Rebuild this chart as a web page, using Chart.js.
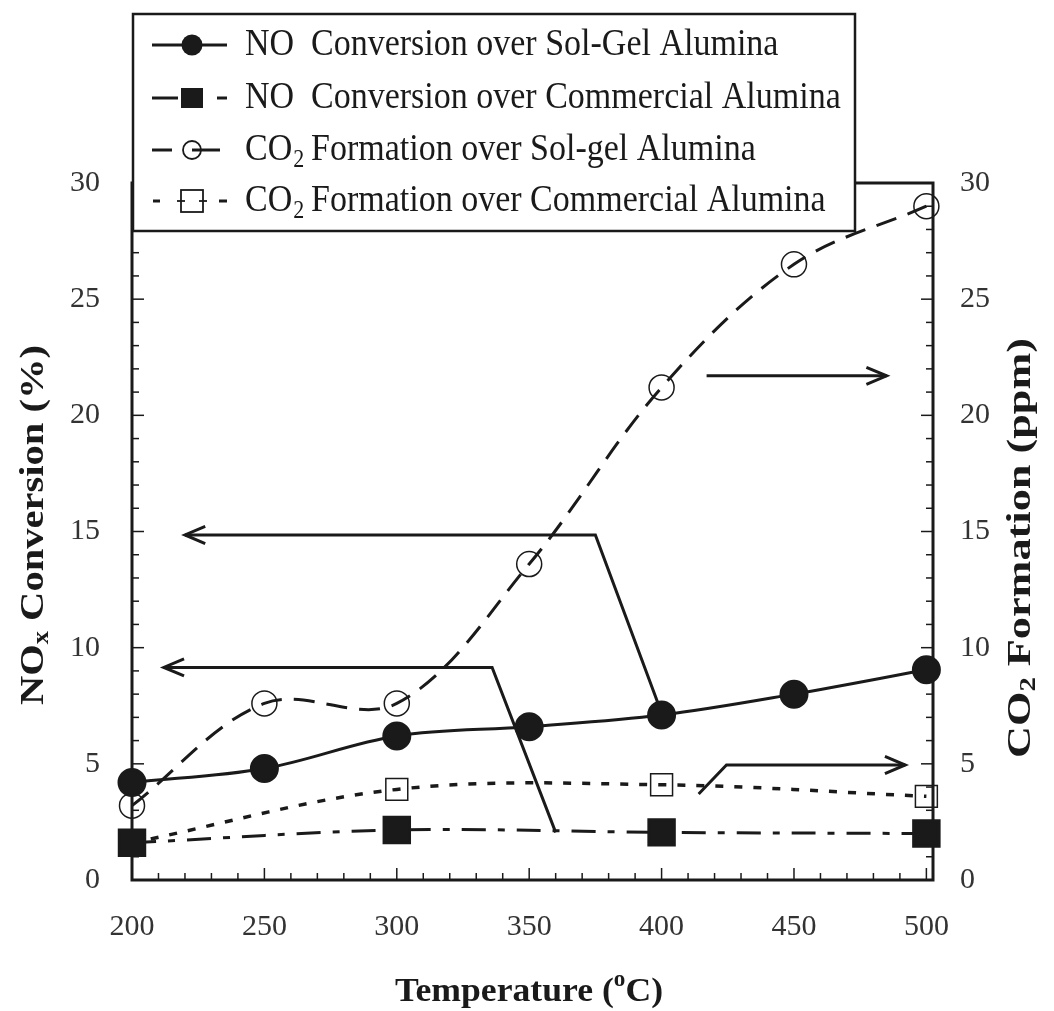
<!DOCTYPE html>
<html>
<head>
<meta charset="utf-8">
<script src="https://cdn.jsdelivr.net/npm/chart.js@4.4.0/dist/chart.umd.min.js"></script>
<style>
  html, body { margin: 0; padding: 0; background: #fff; }
  #wrap { width: 1054px; height: 1011px; }
</style>
</head>
<body>
<div id="wrap"><canvas id="myChart" width="1054" height="1011"></canvas></div>
<script>
// Données
var temperatures = [200, 250, 300, 350, 400, 450, 500];
var noSolGel = [4.2, 4.8, 6.2, 6.6, 7.1, 8.0, 9.05];      // NOx conversion (%)
var co2SolGel = [3.2, 7.6, 7.6, 13.6, 21.2, 26.5, 29.0];  // CO2 (ppm)

var tempCommercial = [200, 300, 400, 500];
var noCommercial = [1.6, 2.15, 2.05, 2.0];
var co2Commercial = [1.6, 3.9, 4.1, 3.6];

var xTickValues = [200, 250, 300, 350, 400, 450, 500];
var yTickValues = [0, 5, 10, 15, 20, 25, 30];

// Flèches d'annotation (coordonnées en données : température, valeur)
var arrows = [
    [[398.5, 7.65], [375, 14.85], [220, 14.85]],
    [[360, 2.05], [336, 9.15], [212, 9.15]],
    [[417, 21.7], [485, 21.7]],
    [[414, 3.7], [424.5, 4.95], [492, 4.95]]
];

var legendLabels = [
    ['NO', null, 'Conversion over Sol-Gel Alumina'],
    ['NO', null, 'Conversion over Commercial Alumina'],
    ['CO', '2', 'Formation over Sol-gel Alumina'],
    ['CO', '2', 'Formation over Commercial Alumina']
];

var ink = '#1a1a1a';
var serif = '"Liberation Serif", "Times New Roman", serif';

function toPoints(xs, ys) {
    return xs.map(function(x, i) { return { x: x, y: ys[i] }; });
}

// Texte avec indice / exposant
function drawRich(ctx, parts, size, bold, targetWidth) {
    var w = 0;
    parts.forEach(function(p) {
        ctx.font = (bold ? 'bold ' : '') + (p[1] ? size * 0.65 : size) + 'px ' + serif;
        w += ctx.measureText(p[0]).width;
    });
    var sx = targetWidth ? targetWidth / w : 1;
    ctx.scale(sx, 1);
    var cx = -w / 2;
    parts.forEach(function(p) {
        ctx.font = (bold ? 'bold ' : '') + (p[1] ? size * 0.65 : size) + 'px ' + serif;
        var dy = p[1] === 'sub' ? size * 0.25 : (p[1] === 'sup' ? -size * 0.33 : 0);
        ctx.fillText(p[0], cx, dy);
        cx += ctx.measureText(p[0]).width;
    });
}

function line(ctx, x1, y1, x2, y2) {
    ctx.beginPath();
    ctx.moveTo(x1, y1);
    ctx.lineTo(x2, y2);
    ctx.stroke();
}

var framePlugin = {
    id: 'frame',
    beforeDatasetsDraw: function(chart) {
        var ctx = chart.ctx, a = chart.chartArea;
        var xs = chart.scales.x, ys = chart.scales.y;
        ctx.save();
        ctx.strokeStyle = ink;
        ctx.lineWidth = 3;
        ctx.strokeRect(a.left, a.top, a.right - a.left, a.bottom - a.top);
        ctx.lineWidth = 1.5;
        for (var v = 0; v <= 30; v++) {
            var py = ys.getPixelForValue(v);
            var len = v % 5 === 0 ? 12 : 7;
            line(ctx, a.left, py, a.left + len, py);
            line(ctx, a.right, py, a.right - len, py);
        }
        for (var t = 200; t <= 500; t += 10) {
            var px = xs.getPixelForValue(t);
            var l2 = t % 50 === 0 ? 12 : 7;
            line(ctx, px, a.bottom, px, a.bottom - l2);
        }
        ctx.restore();
    },
    afterDatasetsDraw: function(chart) {
        var ctx = chart.ctx;
        var xs = chart.scales.x, ys = chart.scales.y;
        ctx.save();
        ctx.strokeStyle = ink;
        ctx.lineWidth = 3;
        ctx.lineJoin = 'miter';
        arrows.forEach(function(arr) {
            var pts = arr.map(function(p) { return [xs.getPixelForValue(p[0]), ys.getPixelForValue(p[1])]; });
            ctx.beginPath();
            ctx.moveTo(pts[0][0], pts[0][1]);
            for (var i = 1; i < pts.length; i++) ctx.lineTo(pts[i][0], pts[i][1]);
            ctx.stroke();
            // pointe
            var tip = pts[pts.length - 1], prev = pts[pts.length - 2];
            var ang = Math.atan2(tip[1] - prev[1], tip[0] - prev[0]);
            ctx.beginPath();
            ctx.moveTo(tip[0] - 22 * Math.cos(ang - 0.4), tip[1] - 22 * Math.sin(ang - 0.4));
            ctx.lineTo(tip[0], tip[1]);
            ctx.lineTo(tip[0] - 22 * Math.cos(ang + 0.4), tip[1] - 22 * Math.sin(ang + 0.4));
            ctx.stroke();
        });
        ctx.restore();
    },
    afterDraw: function(chart) {
        var ctx = chart.ctx;
        ctx.save();
        ctx.fillStyle = ink;
        ctx.textBaseline = 'middle';

        // Titres des axes
        ctx.save();
        ctx.translate(34, 525);
        ctx.rotate(-Math.PI / 2);
        drawRich(ctx, [['NO', null], ['x', 'sub'], [' Conversion (%)', null]], 34, true, 360);
        ctx.restore();

        ctx.save();
        ctx.translate(1021, 548);
        ctx.rotate(-Math.PI / 2);
        drawRich(ctx, [['CO', null], ['2', 'sub'], [' Formation (ppm)', null]], 34, true, 420);
        ctx.restore();

        ctx.save();
        ctx.translate(529, 992);
        drawRich(ctx, [['Temperature (', null], ['o', 'sup'], ['C)', null]], 34, true, 268);
        ctx.restore();

        // Légende
        var bx = 133, by = 14, bw = 722, bh = 217;
        ctx.fillStyle = '#fff';
        ctx.fillRect(bx, by, bw, bh);
        ctx.strokeStyle = ink;
        ctx.lineWidth = 2.5;
        ctx.strokeRect(bx, by, bw, bh);

        var rows = [45, 98, 150, 201];
        var segs = [
            [[152, 227]],
            [[152, 178], [217, 227]],
            [[152, 172], [192, 220]],
            [[153, 160], [219, 227]]
        ];
        var mx = 192;
        rows.forEach(function(ry, i) {
            ctx.strokeStyle = ink;
            ctx.fillStyle = ink;
            ctx.lineWidth = 3;
            segs[i].forEach(function(s) { line(ctx, s[0], ry, s[1], ry); });
            ctx.lineWidth = 1.8;
            if (i === 0) {
                ctx.beginPath(); ctx.arc(mx, ry, 10.5, 0, Math.PI * 2); ctx.fill();
            } else if (i === 1) {
                ctx.fillRect(mx - 11, ry - 10, 22, 20);
            } else if (i === 2) {
                ctx.beginPath(); ctx.arc(mx, ry, 9, 0, Math.PI * 2); ctx.stroke();
            } else {
                ctx.strokeRect(mx - 11, ry - 11, 22, 22);
                line(ctx, mx - 15, ry, mx - 7, ry);
                line(ctx, mx + 7, ry, mx + 15, ry);
            }
            var lab = legendLabels[i];
            ctx.fillStyle = ink;
            ctx.save();
            ctx.translate(245, ry);
            ctx.scale(1, 1.12);
            ctx.font = '34px ' + serif;
            ctx.textAlign = 'left';
            ctx.fillText(lab[0], 0, 0);
            if (lab[1]) {
                var w0 = ctx.measureText(lab[0]).width;
                ctx.font = '22px ' + serif;
                ctx.fillText(lab[1], w0 + 1, 9);
                ctx.font = '34px ' + serif;
            }
            ctx.fillText(lab[2], 66, 0);
            ctx.restore();
        });
        ctx.restore();
    }
};

var tickFont = { family: serif, size: 30 };

var ctx = document.getElementById('myChart').getContext('2d');
var myChart = new Chart(ctx, {
    type: 'line',
    data: {
        datasets: [{
            label: 'NO Conversion over Sol-Gel Alumina',
            data: toPoints(temperatures, noSolGel),
            yAxisID: 'y',
            borderColor: ink,
            borderWidth: 3,
            pointStyle: 'circle',
            pointRadius: 13,
            pointBackgroundColor: ink,
            pointBorderColor: ink,
            tension: 0.35,
            clip: false
        }, {
            label: 'NO Conversion over Commercial Alumina',
            data: toPoints(tempCommercial, noCommercial),
            yAxisID: 'y',
            borderColor: ink,
            borderWidth: 3,
            borderDash: [24, 12, 7, 12],
            pointStyle: 'rect',
            pointRadius: 18,
            pointBackgroundColor: ink,
            pointBorderColor: ink,
            tension: 0.35,
            clip: false
        }, {
            label: 'CO2 Formation over Sol-gel Alumina',
            data: toPoints(temperatures, co2SolGel),
            yAxisID: 'y2',
            borderColor: ink,
            borderWidth: 3,
            borderDash: [21, 12],
            pointStyle: 'circle',
            pointRadius: 12.5,
            pointBorderWidth: 1.5,
            pointBackgroundColor: 'rgba(0,0,0,0)',
            pointBorderColor: ink,
            tension: 0.35,
            clip: false
        }, {
            label: 'CO2 Formation over Commercial Alumina',
            data: toPoints(tempCommercial, co2Commercial),
            yAxisID: 'y2',
            borderColor: ink,
            borderWidth: 3.5,
            borderDash: [8, 11],
            pointStyle: 'rect',
            pointRadius: 15.5,
            pointBorderWidth: 1.5,
            pointBackgroundColor: 'rgba(0,0,0,0)',
            pointBorderColor: ink,
            tension: 0.35,
            clip: false
        }]
    },
    options: {
        responsive: false,
        animation: false,
        layout: { padding: { top: 183, left: 0, right: 0, bottom: 0 } },
        plugins: {
            legend: { display: false },
            tooltip: { enabled: false }
        },
        scales: {
            x: {
                type: 'linear',
                position: 'bottom',
                min: 200,
                max: 502.5,
                afterBuildTicks: function(s) { s.ticks = xTickValues.map(function(v) { return { value: v }; }); },
                afterFit: function(s) { s.height = 131; },
                ticks: { font: tickFont, color: '#333', padding: 21, maxRotation: 0 },
                grid: { display: false },
                border: { display: false }
            },
            y: {
                position: 'left',
                min: 0,
                max: 30,
                afterBuildTicks: function(s) { s.ticks = yTickValues.map(function(v) { return { value: v }; }); },
                afterFit: function(s) { s.width = 132; },
                ticks: { font: tickFont, color: '#333', padding: 24 },
                grid: { display: false },
                border: { display: false }
            },
            y2: {
                position: 'right',
                min: 0,
                max: 30,
                afterBuildTicks: function(s) { s.ticks = yTickValues.map(function(v) { return { value: v }; }); },
                afterFit: function(s) { s.width = 121; },
                ticks: { font: tickFont, color: '#333', padding: 19 },
                grid: { display: false },
                border: { display: false }
            }
        }
    },
    plugins: [framePlugin]
});
</script>
</body>
</html>
